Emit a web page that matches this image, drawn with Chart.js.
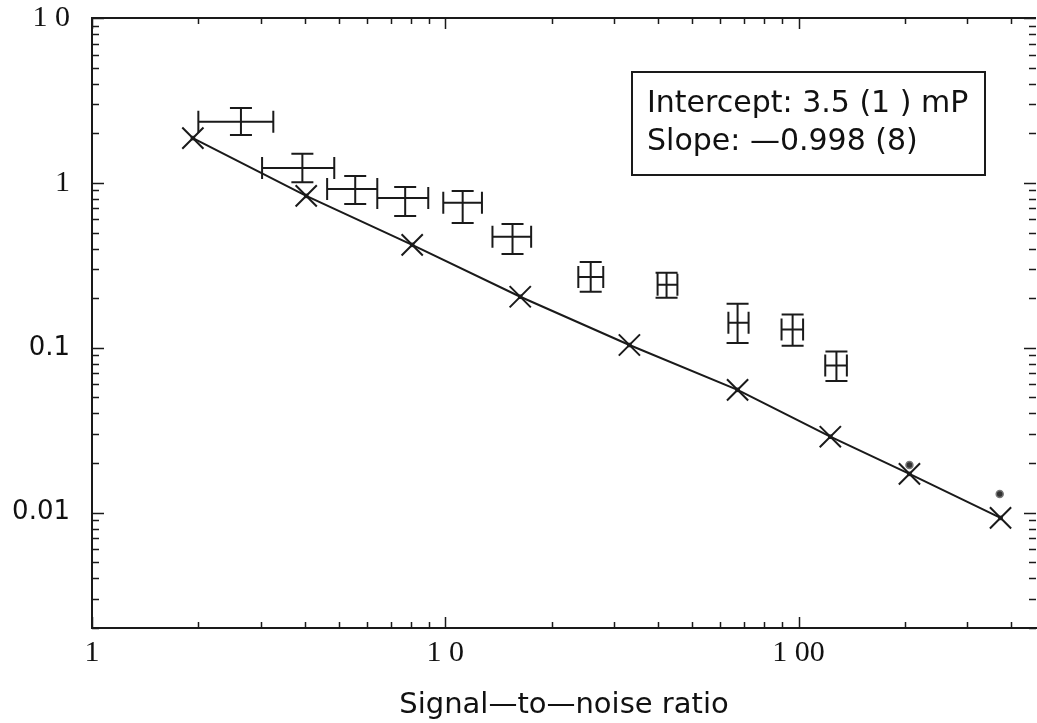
<!DOCTYPE html>
<html lang="en">
<head>
    <meta charset="UTF-8">
    <title>Signal-to-noise ratio</title>
    <script src="https://cdn.jsdelivr.net/npm/chart.js"></script>
    <style>
        body {
            margin: 0;
            background: #fff;
        }
        canvas {
            display: block;
        }
    </style>
</head>
<body>

<canvas id="snrChart" width="1037" height="723"></canvas>

<script>
    // Fitted line (crosses)
    const fitX = [1.93, 4.04, 8.06, 16.3, 33.2, 67.2, 123, 206, 373];
    const fitY = [1.87, 0.834, 0.421, 0.204, 0.104, 0.0556, 0.0289, 0.0172, 0.0093];

    // Measured points with error bars
    const measX     = [2.64, 3.94, 5.56, 7.70, 11.2, 15.5, 25.8, 42.3, 67.2, 96.2, 128];
    const measXLow  = [2.00, 3.03, 4.63, 6.42, 9.87, 13.6, 23.8, 39.9, 63.3, 89.5, 119];
    const measXHigh = [3.26, 4.85, 6.42, 8.95, 12.7, 17.5, 28.0, 45.4, 72.2, 103, 137];
    const measY     = [2.35, 1.23, 0.92, 0.81, 0.757, 0.471, 0.269, 0.241, 0.142, 0.129, 0.078];
    const measYLow  = [1.95, 1.01, 0.746, 0.631, 0.572, 0.371, 0.219, 0.201, 0.107, 0.103, 0.063];
    const measYHigh = [2.85, 1.50, 1.10, 0.946, 0.894, 0.564, 0.332, 0.285, 0.185, 0.159, 0.095];

    // Two small round points at the high end
    const dotX = [206, 371];
    const dotY = [0.0195, 0.0130];

    // Tick labels
    const xTickValues = [1, 10, 100];
    const xTickLabels = ['1', '1 0', '1 00'];
    const yTickValues = [10, 1, 0.1, 0.01];
    const yTickLabels = ['1 0', '1', '0.1', '0.01'];

    const boxLines = ['Intercept: 3.5 (1 ) mP', 'Slope: \u20140.998 (8)'];

    const ink = '#1a1a1a';

    function toPoints(xs, ys) {
        return xs.map((x, i) => ({ x: x, y: ys[i] }));
    }

    function labelFor(values, labels, v) {
        const i = values.findIndex(t => Math.abs(Math.log10(t) - Math.log10(v)) < 1e-6);
        return i >= 0 ? labels[i] : '';
    }

    function tickFont(ctx) {
        const v = ctx.tick ? ctx.tick.value : 1;
        // decimal labels are sans, the others look like a serif face
        if (v < 0.5) return { family: 'DejaVu Sans', size: 26 };
        return { family: 'Liberation Serif', size: 30 };
    }

    // significand check: only 1..9 x 10^n get a tick mark
    function tickKind(v) {
        const e = Math.floor(Math.log10(v) + 1e-9);
        const m = v / Math.pow(10, e);
        if (Math.abs(m - Math.round(m)) > 1e-6) return null;
        return Math.round(m) === 1 ? 'major' : 'minor';
    }

    // inward tick marks on all four sides + top frame line
    const tickMarks = {
        id: 'tickMarks',
        afterDraw(chart) {
            const { ctx, chartArea: a, scales: { x, y } } = chart;
            ctx.save();
            ctx.strokeStyle = ink;
            ctx.lineWidth = 2;
            ctx.beginPath();
            ctx.moveTo(a.left, a.top);
            ctx.lineTo(a.right, a.top);
            ctx.stroke();

            ctx.lineWidth = 1.5;
            ctx.beginPath();
            x.ticks.forEach(t => {
                const kind = tickKind(t.value);
                if (!kind) return;
                const len = kind === 'major' ? 11 : 6;
                const px = Math.round(x.getPixelForValue(t.value)) + 0.5;
                ctx.moveTo(px, a.bottom);
                ctx.lineTo(px, a.bottom - len);
                ctx.moveTo(px, a.top);
                ctx.lineTo(px, a.top + len);
            });
            y.ticks.forEach(t => {
                const kind = tickKind(t.value);
                if (!kind) return;
                const len = kind === 'major' ? 12 : 7;
                const py = Math.round(y.getPixelForValue(t.value)) + 0.5;
                ctx.moveTo(a.left, py);
                ctx.lineTo(a.left + len, py);
                ctx.moveTo(a.right, py);
                ctx.lineTo(a.right - len, py);
            });
            ctx.stroke();
            ctx.restore();
        }
    };

    // horizontal and vertical error bars with caps
    const errorBars = {
        id: 'errorBars',
        afterDatasetsDraw(chart) {
            const { ctx, scales: { x, y } } = chart;
            const cap = 11;
            ctx.save();
            ctx.strokeStyle = ink;
            ctx.lineWidth = 2;
            ctx.beginPath();
            measX.forEach((mx, i) => {
                const cx = x.getPixelForValue(mx);
                const cy = y.getPixelForValue(measY[i]);
                const x1 = x.getPixelForValue(measXLow[i]);
                const x2 = x.getPixelForValue(measXHigh[i]);
                const y1 = y.getPixelForValue(measYLow[i]);
                const y2 = y.getPixelForValue(measYHigh[i]);
                ctx.moveTo(x1, cy); ctx.lineTo(x2, cy);
                ctx.moveTo(x1, cy - cap); ctx.lineTo(x1, cy + cap);
                ctx.moveTo(x2, cy - cap); ctx.lineTo(x2, cy + cap);
                ctx.moveTo(cx, y1); ctx.lineTo(cx, y2);
                ctx.moveTo(cx - cap, y1); ctx.lineTo(cx + cap, y1);
                ctx.moveTo(cx - cap, y2); ctx.lineTo(cx + cap, y2);
            });
            ctx.stroke();
            ctx.restore();
        }
    };

    // boxed fit results
    const fitBox = {
        id: 'fitBox',
        afterDraw(chart) {
            const { ctx, chartArea: a } = chart;
            const bx = a.left + 540, by = a.top + 54, bw = 353, bh = 103;
            ctx.save();
            ctx.fillStyle = '#fff';
            ctx.fillRect(bx, by, bw, bh);
            ctx.strokeStyle = ink;
            ctx.lineWidth = 2;
            ctx.strokeRect(bx, by, bw, bh);
            ctx.fillStyle = '#111';
            ctx.font = '30px "DejaVu Sans"';
            ctx.textBaseline = 'alphabetic';
            ctx.fillText(boxLines[0], bx + 15, by + 40);
            ctx.fillText(boxLines[1], bx + 15, by + 78);
            ctx.restore();
        }
    };

    const ctx = document.getElementById('snrChart').getContext('2d');

    new Chart(ctx, {
        type: 'scatter',
        data: {
            datasets: [
                {
                    label: 'fit',
                    data: toPoints(fitX, fitY),
                    showLine: true,
                    borderColor: ink,
                    borderWidth: 2,
                    pointStyle: 'crossRot',
                    pointRadius: 15,
                    pointBorderWidth: 2,
                    pointBorderColor: ink,
                    tension: 0
                },
                {
                    label: 'fit centres',
                    data: toPoints(fitX, fitY),
                    pointStyle: 'rect',
                    pointRadius: 2.5,
                    pointBackgroundColor: '#222',
                    pointBorderColor: '#222',
                    pointBorderWidth: 1
                },
                {
                    label: 'measured',
                    data: toPoints(measX, measY),
                    pointRadius: 0
                },
                {
                    label: 'dots',
                    data: toPoints(dotX, dotY),
                    pointStyle: 'circle',
                    pointRadius: 3.5,
                    pointBackgroundColor: '#333',
                    pointBorderColor: '#777',
                    pointBorderWidth: 1.5
                }
            ]
        },
        options: {
            responsive: false,
            animation: false,
            devicePixelRatio: 1,
            layout: {
                autoPadding: false,
                padding: { top: 18, right: 1, left: 0, bottom: 0 }
            },
            plugins: {
                legend: { display: false },
                tooltip: { enabled: false }
            },
            scales: {
                x: {
                    type: 'logarithmic',
                    min: 1,
                    max: 470,
                    afterFit: s => {
                        s.height = 95;
                        s.paddingLeft = 0;
                        s.paddingRight = 0;
                    },
                    grid: { display: false, drawTicks: false },
                    border: { display: true, color: ink, width: 2 },
                    ticks: {
                        autoSkip: false,
                        maxRotation: 0,
                        padding: 7,
                        color: '#111',
                        font: tickFont,
                        callback: v => labelFor(xTickValues, xTickLabels, v)
                    },
                    title: {
                        display: true,
                        text: 'Signal\u2014to\u2014noise ratio',
                        color: '#111',
                        font: { family: 'DejaVu Sans', size: 29 },
                        padding: { top: 0, bottom: 0 }
                    }
                },
                y: {
                    type: 'logarithmic',
                    min: 0.002,
                    max: 10,
                    afterFit: s => {
                        s.width = 92;
                        s.paddingTop = 0;
                        s.paddingBottom = 0;
                    },
                    grid: { display: false, drawTicks: false },
                    border: { display: true, color: ink, width: 2 },
                    ticks: {
                        autoSkip: false,
                        padding: 22,
                        color: '#111',
                        font: tickFont,
                        callback: v => labelFor(yTickValues, yTickLabels, v)
                    }
                }
            }
        },
        plugins: [tickMarks, errorBars, fitBox]
    });
</script>

</body>
</html>
